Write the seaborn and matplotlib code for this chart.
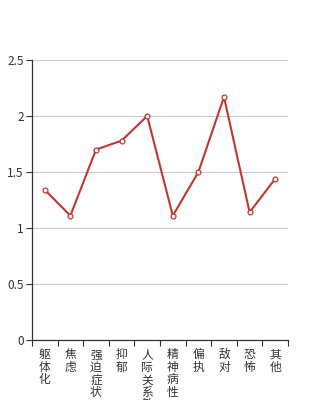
import matplotlib
matplotlib.use("Agg")
import matplotlib.pyplot as plt
import seaborn as sns
import pandas as pd
import numpy as np

categories = ["躯体化", "焦虑", "强迫症状", "抑郁", "人际关系敏感", "精神病性", "偏执", "敌对", "恐怖", "其他"]
values = [1.34, 1.11, 1.70, 1.78, 2.00, 1.11, 1.50, 2.17, 1.14, 1.44]
yticks = [0, 0.5, 1, 1.5, 2, 2.5]
ytick_labels = ["0", "0.5", "1", "1.5", "2", "2.5"]

sns.set_theme(style="white")
plt.rcParams['font.family'] = ['Noto Sans CJK SC', 'DejaVu Sans']

df = pd.DataFrame({"pos": np.arange(len(categories)), "value": values, "cat": categories})

fig = plt.figure(figsize=(3.2, 4.0), dpi=100)
ax = fig.add_axes([0.1, 0.15, 0.8, 0.70])

sns.lineplot(data=df, x="pos", y="value", ax=ax, color="#c23531", linewidth=1.5,
             marker="o", markersize=3.5, markerfacecolor="white",
             markeredgecolor="#c23531", markeredgewidth=0.9)

ax.set_xlim(-0.5, len(categories) - 0.5)
ax.set_ylim(0, 2.5)
ax.set_yticks(yticks)
ax.set_yticklabels(ytick_labels)
ax.yaxis.grid(True, color="#cccccc", linewidth=0.8)
ax.set_axisbelow(True)

ax.set_xticks(df["pos"])
ax.set_xticklabels(["\n".join(c) for c in categories], linespacing=0.95, va="top")
ax.tick_params(axis="x", length=0, pad=6, labelsize=8.5, labelcolor="#333333")
ax.set_xticks(np.arange(len(categories) + 1) - 0.5, minor=True)
ax.tick_params(axis="x", which="minor", length=4, width=0.8, color="#333333", bottom=True)
ax.tick_params(axis="y", length=4, width=0.8, color="#333333", left=True, labelsize=8.5,
               labelcolor="#333333", pad=2)

for s in ["top", "right"]:
    ax.spines[s].set_visible(False)
for s in ["left", "bottom"]:
    ax.spines[s].set_color("#333333")
    ax.spines[s].set_linewidth(0.9)

ax.set_xlabel("")
ax.set_ylabel("")

fig.savefig("out.png", dpi=100)
